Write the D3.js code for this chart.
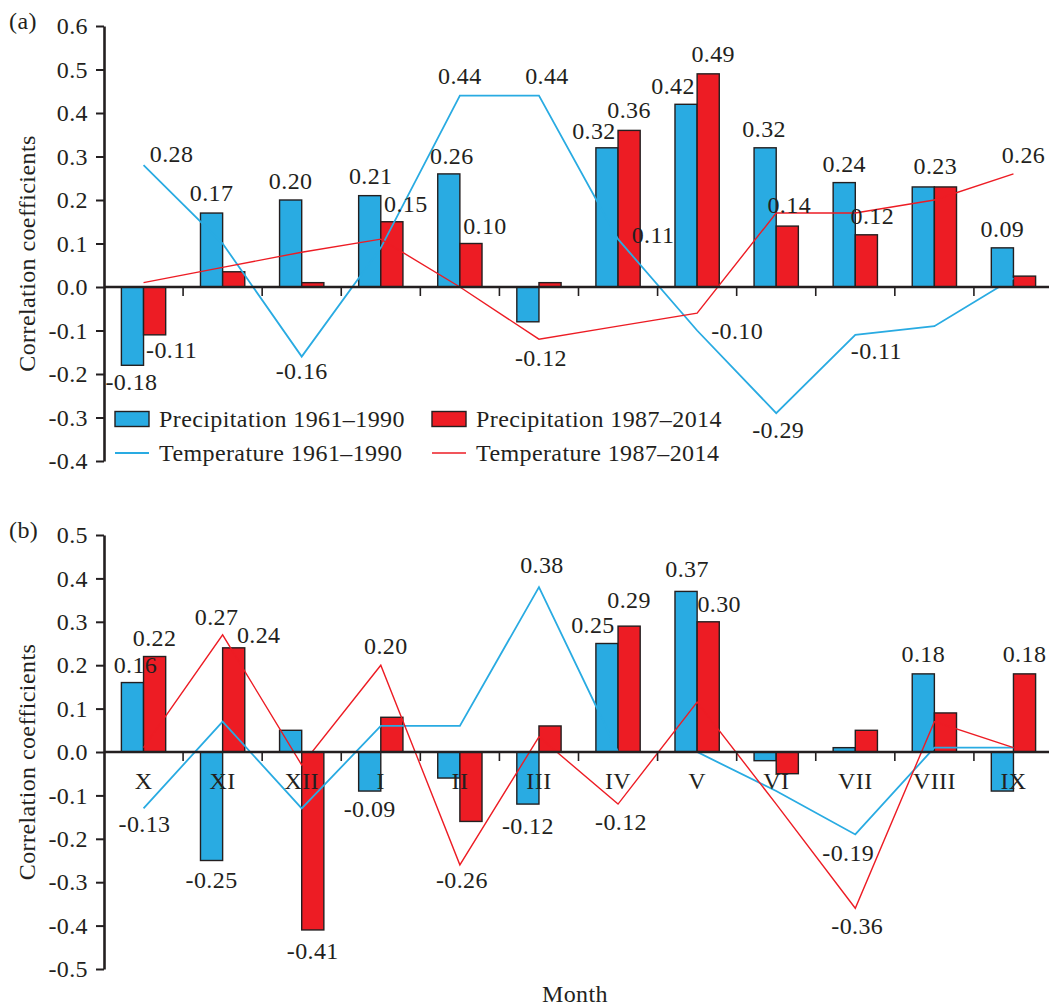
<!DOCTYPE html>
<html>
<head>
<meta charset="utf-8">
<script src="https://cdn.jsdelivr.net/npm/d3@7"></script>
<style>
  body { margin: 0; background: #fff; }
  svg text { font-family: "Liberation Serif", "Times New Roman", serif; fill: #231f20; letter-spacing: 0.4px; }
</style>
</head>
<body>
<div id="chart"></div>
<script>
const months = ["X", "XI", "XII", "I", "II", "III", "IV", "V", "VI", "VII", "VIII", "IX"];

// panel (a)
const precipA1 = [-0.18, 0.17, 0.20, 0.21, 0.26, -0.08, 0.32, 0.42, 0.32, 0.24, 0.23, 0.09];
const precipA2 = [-0.11, 0.035, 0.01, 0.15, 0.10, 0.01, 0.36, 0.49, 0.14, 0.12, 0.23, 0.025];
const tempA1 = [0.28, 0.10, -0.16, 0.09, 0.44, 0.44, 0.11, -0.10, -0.29, -0.11, -0.09, 0.02];
const tempA2 = [0.01, 0.045, 0.08, 0.11, 0.00, -0.12, -0.09, -0.06, 0.17, 0.17, 0.20, 0.26];

// panel (b)
const precipB1 = [0.16, -0.25, 0.05, -0.09, -0.06, -0.12, 0.25, 0.37, -0.02, 0.01, 0.18, -0.09];
const precipB2 = [0.22, 0.24, -0.41, 0.08, -0.16, 0.06, 0.29, 0.30, -0.05, 0.05, 0.09, 0.18];
const tempB1 = [-0.13, 0.07, -0.13, 0.06, 0.06, 0.38, 0.00, 0.00, -0.09, -0.19, 0.01, 0.01];
const tempB2 = [0.01, 0.27, -0.03, 0.20, -0.26, 0.035, -0.12, 0.115, -0.12, -0.36, 0.07, 0.01];

const ticksA = d3.range(-4, 7).map(d => d / 10);
const ticksB = d3.range(-5, 6).map(d => d / 10);

const seriesNames = ["Precipitation 1961\u20131990", "Precipitation 1987\u20132014",
                     "Temperature 1961\u20131990", "Temperature 1987\u20132014"];

// which values get a data label: [series, month index, dx, dy]
const labelsA = [
  ["t1", 0, 28, -3], ["p1", 1, 0, -12], ["p1", 2, 0, -11], ["p1", 3, 1, -12],
  ["p2", 3, 14, -10], ["p1", 4, 3, -10], ["p2", 4, 14, -10], ["t1", 4, 0, -12],
  ["t1", 5, 8, -12], ["t2", 5, 2, 27], ["p1", 6, -13, -9], ["p2", 6, 0, -12],
  ["t1", 6, 35, 4], ["p1", 7, -13, -10], ["p2", 7, 5, -12], ["t1", 7, 40, 8],
  ["p1", 8, -1, -11], ["p2", 8, 2, -13], ["t1", 8, 2, 25], ["p1", 9, 0, -11],
  ["p2", 9, 6, -11], ["t1", 9, 21, 24], ["p1", 10, 12, -13], ["t2", 11, 10, -11],
  ["p1", 11, 0, -11], ["p1", 0, -1, 25], ["p2", 0, 17, 23], ["t1", 2, 0, 22]
];
const labelsB = [
  ["p1", 0, 3, -10], ["p2", 0, 0, -11], ["t2", 1, -6, -10], ["p2", 1, 25, -5],
  ["t1", 0, 1, 24], ["p1", 1, 0, 27], ["p2", 2, 0, 29], ["p1", 3, 0, 26],
  ["t2", 3, 5, -11], ["t2", 4, 2, 23], ["p1", 5, 0, 30], ["t1", 5, 3, -14],
  ["t2", 6, 3, 26], ["p1", 6, -14, -11], ["p2", 6, 0, -18], ["p1", 7, 1, -14],
  ["p2", 7, 11, -10], ["t1", 9, -7, 27], ["t2", 9, 2, 26], ["p1", 10, 0, -12],
  ["p2", 11, 0, -12]
];

const blue = "#29abe2";
const red = "#ed1c24";
const ink = "#231f20";

const svg = d3.select("#chart").append("svg")
  .attr("width", 1049).attr("height", 1007);

const x0 = d3.scaleBand().domain(months).range([104, 1053])
  .paddingInner(0.44).paddingOuter(0.22);
const x1 = d3.scaleBand().domain(["p1", "p2"]).range([0, x0.bandwidth()]);
const cx = m => x0(m) + x0.bandwidth() / 2;

function fmt(v) {
  const s = v.toFixed(2);
  return s === "-0.00" ? "0.00" : s;
}

function drawPanel(tag, p1, p2, t1, t2, yDomain, yRange, ticks, labels, showMonths) {
  const g = svg.append("g");
  const y = d3.scaleLinear().domain(yDomain).range(yRange);
  const series = { p1: p1, p2: p2, t1: t1, t2: t2 };

  // bars
  [["p1", p1, blue], ["p2", p2, red]].forEach(([key, vals, col]) => {
    g.append("g").selectAll("rect")
      .data(vals)
      .join("rect")
      .attr("x", (d, i) => x0(months[i]) + x1(key))
      .attr("width", x1.bandwidth())
      .attr("y", d => y(Math.max(0, d)))
      .attr("height", d => Math.abs(y(d) - y(0)))
      .attr("fill", col)
      .attr("stroke", ink)
      .attr("stroke-width", 1.4);
  });

  // temperature lines
  const line = d3.line().x((d, i) => cx(months[i])).y(d => y(d));
  g.append("path").datum(t1).attr("d", line)
    .attr("fill", "none").attr("stroke", blue).attr("stroke-width", 1.8);
  g.append("path").datum(t2).attr("d", line)
    .attr("fill", "none").attr("stroke", red).attr("stroke-width", 1.4);

  // zero line with boundary ticks
  const xAxis = d3.axisBottom(x0).tickSize(0).tickSizeOuter(0)
    .tickFormat(showMonths ? (d => d) : "");
  const xa = g.append("g").attr("transform", `translate(0,${y(0)})`).call(xAxis);
  xa.select(".domain").attr("stroke", ink).attr("stroke-width", 2.6)
    .attr("d", "M104,0H1049");
  xa.selectAll("text").attr("y", 37).attr("dy", null)
    .attr("font-size", 24).attr("font-family", null).attr("fill", ink);
  xa.attr("font-family", null).attr("font-size", null);
  g.append("g").selectAll("line")
    .data(months.slice(1))
    .join("line")
    .attr("x1", m => x0(m) - x0.step() * x0.paddingOuter())
    .attr("x2", m => x0(m) - x0.step() * x0.paddingOuter())
    .attr("y1", y(0)).attr("y2", y(0) + 9)
    .attr("stroke", ink).attr("stroke-width", 1.6);

  // y axis
  const yAxis = d3.axisLeft(y).tickValues(ticks).tickSize(8).tickSizeOuter(0)
    .tickPadding(8)
    .tickFormat(d => { const s = d.toFixed(1); return s === "-0.0" ? "0.0" : s; });
  const ya = g.append("g").attr("transform", "translate(104,0)").call(yAxis);
  ya.attr("font-family", null).attr("font-size", null);
  ya.select(".domain").attr("stroke", ink).attr("stroke-width", 2.6);
  ya.selectAll(".tick line").attr("stroke", ink).attr("stroke-width", 2);
  ya.selectAll("text").attr("font-size", 24).attr("fill", ink);

  // y title
  const midY = (yRange[0] + yRange[1]) / 2 + 10;
  g.append("text")
    .attr("transform", `translate(35,${midY}) rotate(-90)`)
    .attr("text-anchor", "middle")
    .attr("font-size", 24)
    .text("Correlation coefficients");

  // panel tag
  g.append("text").attr("x", 9).attr("y", yRange[1] + 3)
    .attr("font-size", 24).text(tag);

  // data labels
  g.append("g").selectAll("text")
    .data(labels)
    .join("text")
    .attr("text-anchor", "middle")
    .attr("font-size", 24)
    .attr("x", ([k, i, dx]) => (k[0] === "p" ? x0(months[i]) + x1(k) + x1.bandwidth() / 2 : cx(months[i])) + dx)
    .attr("y", ([k, i, dx, dy]) => y(series[k][i]) + dy)
    .text(([k, i]) => fmt(series[k][i]));

  return g;
}

drawPanel("(a)", precipA1, precipA2, tempA1, tempA2, [-0.4, 0.6], [461, 26], ticksA, labelsA, false);
drawPanel("(b)", precipB1, precipB2, tempB1, tempB2, [-0.5, 0.5], [969, 535], ticksB, labelsB, true);

// legend (panel a)
const leg = svg.append("g");
const legItems = [
  { name: seriesNames[0], col: blue, type: "rect", x: 115, y: 419 },
  { name: seriesNames[1], col: red, type: "rect", x: 432, y: 419 },
  { name: seriesNames[2], col: blue, type: "line", x: 115, y: 453 },
  { name: seriesNames[3], col: red, type: "line", x: 432, y: 453 }
];
legItems.forEach(it => {
  if (it.type === "rect") {
    leg.append("rect").attr("x", it.x).attr("y", it.y - 7.5)
      .attr("width", 34).attr("height", 15)
      .attr("fill", it.col).attr("stroke", ink).attr("stroke-width", 1.4);
  } else {
    leg.append("line").attr("x1", it.x).attr("x2", it.x + 34)
      .attr("y1", it.y).attr("y2", it.y)
      .attr("stroke", it.col).attr("stroke-width", it.col === blue ? 1.8 : 1.4);
  }
  leg.append("text").attr("x", it.x + 44).attr("y", it.y + 8)
    .attr("font-size", 24).text(it.name);
});

// x title
svg.append("text").attr("x", 575).attr("y", 1002)
  .attr("text-anchor", "middle").attr("font-size", 24).text("Month");
</script>
</body>
</html>
